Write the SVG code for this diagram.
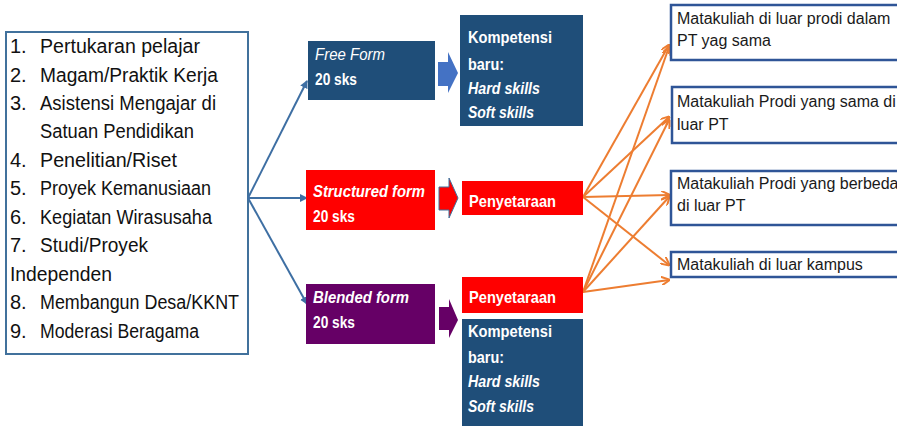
<svg xmlns="http://www.w3.org/2000/svg" width="897" height="426" viewBox="0 0 897 426">
<style>
text{font-family:"Liberation Sans",Arial,sans-serif}
.list{font-size:20px;fill:#111}
.w{font-size:17px;fill:#fff;font-weight:bold}
.it{font-style:italic}
.r{font-size:16px;fill:#1a1a1a}
.rbox{fill:#fff;stroke:#2F5597;stroke-width:2.5}
.fan{stroke:#3E6FA3;stroke-width:2;fill:none}
.or{stroke:#ED7D31;stroke-width:2;fill:none}
</style>
<defs>
<marker id="mb" markerWidth="8" markerHeight="8" refX="7" refY="4" orient="auto" markerUnits="userSpaceOnUse"><path d="M0,0 L8,4 L0,8 Z" fill="#3E6FA3"/></marker>
<marker id="mo" markerWidth="9" markerHeight="9" refX="8" refY="4.5" orient="auto" markerUnits="userSpaceOnUse"><path d="M0,0 L9,4.5 L0,9" fill="none" stroke="#ED7D31" stroke-width="2"/></marker>
</defs>
<rect width="897" height="426" fill="#fff"/>

<g id="list">
<rect x="6" y="32" width="242" height="322" fill="#fff" stroke="#41719C" stroke-width="2"/>
<text class="list" x="10" y="53">1.</text><text class="list" x="40" y="53" textLength="160" lengthAdjust="spacingAndGlyphs">Pertukaran pelajar</text>
<text class="list" x="10" y="82">2.</text><text class="list" x="40" y="82" textLength="178" lengthAdjust="spacingAndGlyphs">Magam/Praktik Kerja</text>
<text class="list" x="10" y="110">3.</text><text class="list" x="40" y="110" textLength="176" lengthAdjust="spacingAndGlyphs">Asistensi Mengajar di</text>
<text class="list" x="40" y="138" textLength="154" lengthAdjust="spacingAndGlyphs">Satuan Pendidikan</text>
<text class="list" x="10" y="167">4.</text><text class="list" x="40" y="167" textLength="137" lengthAdjust="spacingAndGlyphs">Penelitian/Riset</text>
<text class="list" x="10" y="195">5.</text><text class="list" x="40" y="195" textLength="171" lengthAdjust="spacingAndGlyphs">Proyek Kemanusiaan</text>
<text class="list" x="10" y="224">6.</text><text class="list" x="40" y="224" textLength="172" lengthAdjust="spacingAndGlyphs">Kegiatan Wirasusaha</text>
<text class="list" x="10" y="252">7.</text><text class="list" x="40" y="252" textLength="108" lengthAdjust="spacingAndGlyphs">Studi/Proyek</text>
<text class="list" x="10" y="281" textLength="102" lengthAdjust="spacingAndGlyphs">Independen</text>
<text class="list" x="10" y="309">8.</text><text class="list" x="40" y="309" textLength="199" lengthAdjust="spacingAndGlyphs">Membangun Desa/KKNT</text>
<text class="list" x="10" y="338">9.</text><text class="list" x="40" y="338" textLength="159" lengthAdjust="spacingAndGlyphs">Moderasi Beragama</text>
</g>

<g id="connectors">
<line class="fan" x1="248" y1="198" x2="307" y2="81" marker-end="url(#mb)"/>
<line class="fan" x1="248" y1="198" x2="307" y2="198" marker-end="url(#mb)"/>
<line class="fan" x1="248" y1="198" x2="307" y2="304" marker-end="url(#mb)"/>
<path d="M438,62 L448,62 L448,52 L458,73 L448,93 L448,86 L438,86 Z" fill="#4472C4"/>
<path d="M439,187 L449,187 L449,178 L458,198 L449,218 L449,210 L439,210 Z" fill="#FF0000" stroke="#41719C" stroke-width="1"/>
<path d="M439,307 L449,307 L449,299 L458,320 L449,338 L449,330 L439,330 Z" fill="#660066"/>
<line class="or" x1="583" y1="197" x2="669" y2="45" marker-end="url(#mo)"/>
<line class="or" x1="583" y1="197" x2="669" y2="117" marker-end="url(#mo)"/>
<line class="or" x1="583" y1="197" x2="669" y2="195" marker-end="url(#mo)"/>
<line class="or" x1="583" y1="197" x2="669" y2="265" marker-end="url(#mo)"/>
<line class="or" x1="583" y1="292" x2="669" y2="47" marker-end="url(#mo)"/>
<line class="or" x1="583" y1="292" x2="669" y2="120" marker-end="url(#mo)"/>
<line class="or" x1="583" y1="292" x2="669" y2="197" marker-end="url(#mo)"/>
<line class="or" x1="583" y1="292" x2="669" y2="280" marker-end="url(#mo)"/>
</g>

<g id="free">
<rect x="308" y="41" width="127" height="59" fill="#1F4E79"/>
<text class="w it" x="315" y="60" style="font-weight:normal" textLength="70" lengthAdjust="spacingAndGlyphs">Free Form</text>
<text class="w" x="315" y="85" textLength="42" lengthAdjust="spacingAndGlyphs">20 sks</text>
</g>
<g id="komp1">
<rect x="460" y="15" width="123" height="111" fill="#1F4E79"/>
<text class="w" x="468" y="43" textLength="84" lengthAdjust="spacingAndGlyphs">Kompetensi</text>
<text class="w" x="468" y="70" textLength="36" lengthAdjust="spacingAndGlyphs">baru:</text>
<text class="w it" x="468" y="94" textLength="72" lengthAdjust="spacingAndGlyphs">Hard skills</text>
<text class="w it" x="468" y="118" textLength="66" lengthAdjust="spacingAndGlyphs">Soft skills</text>
</g>
<g id="struct">
<rect x="306" y="170" width="129" height="60" fill="#FF0000"/>
<text class="w it" x="313" y="197" textLength="112" lengthAdjust="spacingAndGlyphs">Structured form</text>
<text class="w" x="313" y="222" textLength="42" lengthAdjust="spacingAndGlyphs">20 sks</text>
</g>
<g id="peny1">
<rect x="462" y="181" width="121" height="34" fill="#FF0000"/>
<text class="w" x="469" y="207" textLength="87" lengthAdjust="spacingAndGlyphs">Penyetaraan</text>
</g>
<g id="blend">
<rect x="306" y="284" width="129" height="60" fill="#660066"/>
<text class="w it" x="313" y="303" textLength="96" lengthAdjust="spacingAndGlyphs">Blended form</text>
<text class="w" x="313" y="328" textLength="42" lengthAdjust="spacingAndGlyphs">20 sks</text>
</g>
<g id="peny2">
<rect x="462" y="277" width="121" height="36" fill="#FF0000"/>
<text class="w" x="469" y="303" textLength="87" lengthAdjust="spacingAndGlyphs">Penyetaraan</text>
</g>
<g id="komp2">
<rect x="462" y="319" width="121" height="112" fill="#1F4E79"/>
<text class="w" x="468" y="337" textLength="84" lengthAdjust="spacingAndGlyphs">Kompetensi</text>
<text class="w" x="468" y="363" textLength="36" lengthAdjust="spacingAndGlyphs">baru:</text>
<text class="w it" x="468" y="387" textLength="72" lengthAdjust="spacingAndGlyphs">Hard skills</text>
<text class="w it" x="468" y="412" textLength="66" lengthAdjust="spacingAndGlyphs">Soft skills</text>
</g>

<g id="mk1">
<rect class="rbox" x="671" y="5" width="240" height="55"/>
<text class="r" x="677" y="24">Matakuliah di luar prodi dalam</text>
<text class="r" x="677" y="46">PT yag sama</text>
</g>
<g id="mk2">
<rect class="rbox" x="672" y="87" width="240" height="56"/>
<text class="r" x="677" y="107">Matakuliah Prodi yang sama di</text>
<text class="r" x="677" y="130">luar PT</text>
</g>
<g id="mk3">
<rect class="rbox" x="671" y="171" width="240" height="54"/>
<text class="r" x="677" y="189">Matakuliah Prodi yang berbeda</text>
<text class="r" x="677" y="211">di luar PT</text>
</g>
<g id="mk4">
<rect class="rbox" x="671" y="252" width="240" height="25"/>
<text class="r" x="677" y="270">Matakuliah di luar kampus</text>
</g>
</svg>
